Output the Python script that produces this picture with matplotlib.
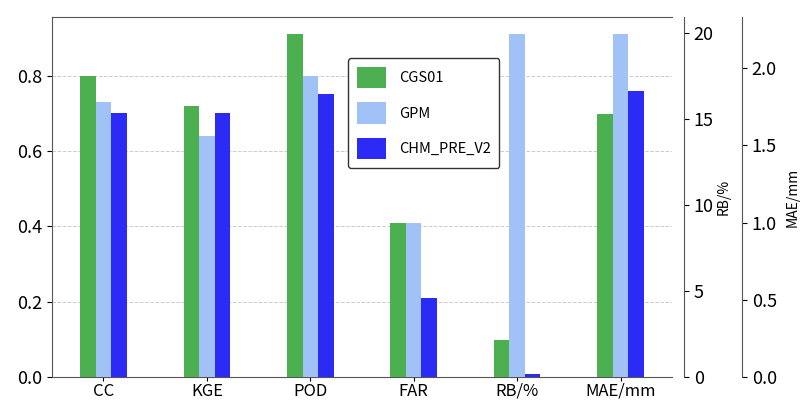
import matplotlib
matplotlib.use("Agg")
import matplotlib.pyplot as plt
import numpy as np

plt.rcParams['font.family'] = ['Noto Sans CJK SC', 'DejaVu Sans']

categories = ["CC", "KGE", "POD", "FAR", "RB/%", "MAE/mm"]
series_names = ["CGS01", "GPM", "CHM_PRE_V2"]
# first four metrics on left axis
cgs01_main = [0.80, 0.72, 0.91, 0.41]
gpm_main = [0.73, 0.64, 0.80, 0.41]
chm_main = [0.70, 0.70, 0.75, 0.21]
# RB/% on second axis
rb_values = [2.15, 19.96, 0.2]
# MAE/mm on third axis
mae_values = [1.70, 2.22, 1.855]
left_ticks = [0.0, 0.2, 0.4, 0.6, 0.8]
rb_ticks = [0, 5, 10, 15, 20]
mae_ticks = [0.0, 0.5, 1.0, 1.5, 2.0]

colors = ["#4caf50", "#a0c2f7", "#2b2bf5"]
width = 0.15

fig = plt.figure(figsize=(8.03, 4.01), dpi=100)
ax = fig.add_axes([0.0648, 0.0599, 0.7721, 0.8977])
ax2 = ax.twinx()
ax3 = ax.twinx()

x = np.arange(len(categories))
xm = x[:4]
for i, (vals, c, name) in enumerate(zip([cgs01_main, gpm_main, chm_main], colors, series_names)):
    ax.bar(xm + (i - 1) * width, vals, width, color=c, label=name, zorder=3)
for i, c in enumerate(colors):
    ax2.bar(x[4] + (i - 1) * width, rb_values[i], width, color=c, zorder=3)
    ax3.bar(x[5] + (i - 1) * width, mae_values[i], width, color=c, zorder=3)

ax.set_xticks(x)
ax.set_xticklabels(categories, fontsize=12)
ax.tick_params(axis='x', pad=1, length=3)
ax.set_yticks(left_ticks)
ax.set_yticklabels([f"{t:.1f}" for t in left_ticks])
ax.tick_params(axis='y', labelsize=13)
ax.grid(axis='y', linestyle='--', color='#cccccc', linewidth=0.7, zorder=0)
ax.spines['right'].set_visible(False)
ax.set_xlim(-0.4975, 5.4975)

for a in (ax, ax2, ax3):
    for s in a.spines.values():
        s.set_color('#555555')

px = 72 / 100.0
ax2.spines['right'].set_position(('outward', 12 * px))
ax2.spines['top'].set_visible(False)
ax2.spines['left'].set_visible(False)
ax2.spines['bottom'].set_visible(False)
ax2.set_yticks(rb_ticks)
ax2.set_yticklabels([str(t) for t in rb_ticks])
ax2.set_ylabel("RB/%", fontsize=10, labelpad=2)
ax2.tick_params(axis='y', labelsize=13)

ax3.spines['right'].set_position(('outward', 70 * px))
ax3.spines['top'].set_visible(False)
ax3.spines['left'].set_visible(False)
ax3.spines['bottom'].set_visible(False)
ax3.set_yticks(mae_ticks)
ax3.set_yticklabels([f"{t:.1f}" for t in mae_ticks])
ax3.set_ylabel("MAE/mm", fontsize=10, labelpad=6)
ax3.tick_params(axis='y', labelsize=13)

ax.legend(loc='upper left', bbox_to_anchor=(0.477, 0.886), borderaxespad=0,
          fontsize=10.5, handlelength=2.0, handleheight=1.9, labelspacing=0.95,
          handletextpad=0.9, borderpad=0.6, framealpha=1, edgecolor='#333333',
          fancybox=True)

fig.savefig("out.png", dpi=100)
